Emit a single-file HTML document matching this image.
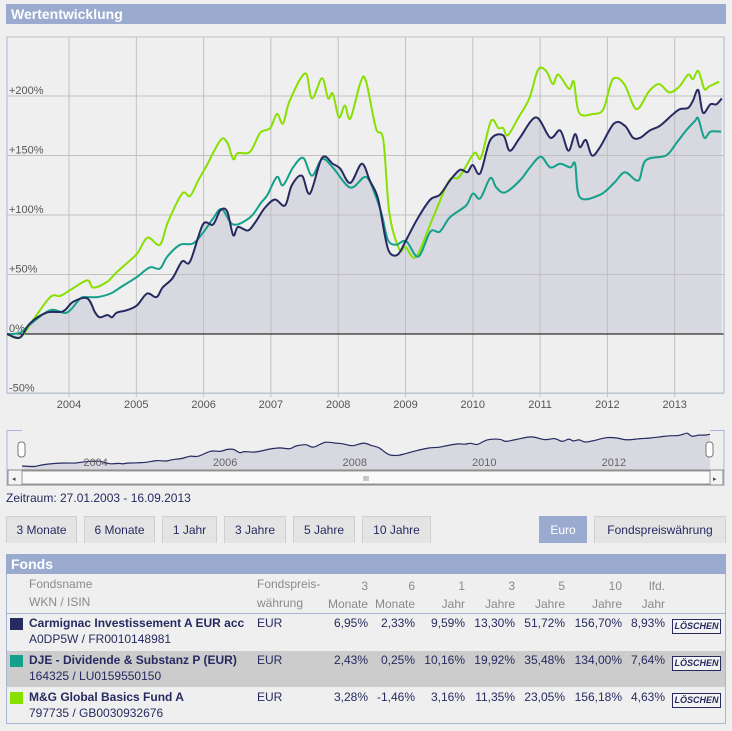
<!DOCTYPE html>
<html><head><meta charset="utf-8">
<style>
body{margin:0;background:#efefef;font-family:"Liberation Sans",sans-serif;width:732px;height:731px;overflow:hidden;position:relative}
.bar{position:absolute;left:6px;width:720px;height:20px;background:#9babcf;color:#fff;font-weight:bold;font-size:14px;line-height:20px;padding-left:5px;box-sizing:border-box}
.btn{position:absolute;top:516px;height:27px;background:#e4e4e4;border:1px solid #cfcfcf;border-bottom:none;box-sizing:border-box;color:#262a60;font-size:12px;line-height:26px;text-align:center}
.t{position:absolute;font-size:12px;color:#262a60;white-space:nowrap}
.h{position:absolute;font-size:12px;color:#8a8a8a;white-space:nowrap}
.r{text-align:right}
.del{position:absolute;left:672px;width:47px;height:13px;border:1px solid #262a60;font-size:9px;font-weight:bold;font-style:italic;color:#262a60;text-align:center;line-height:13px;background:#f4f4f4}
.sw{position:absolute;left:10px;width:13px;height:12px}
</style></head><body>
<div class="bar" style="top:4px">Wertentwicklung</div>
<svg id="chart" width="732" height="500" style="position:absolute;left:0;top:0"></svg>
<div class="t" style="left:6px;top:491px;font-size:12px">Zeitraum: 27.01.2003 - 16.09.2013</div>
<div class="btn" style="left:6px;width:71px">3 Monate</div>
<div class="btn" style="left:84px;width:71px">6 Monate</div>
<div class="btn" style="left:162px;width:55px">1 Jahr</div>
<div class="btn" style="left:224px;width:62px">3 Jahre</div>
<div class="btn" style="left:293px;width:62px">5 Jahre</div>
<div class="btn" style="left:362px;width:69px">10 Jahre</div>
<div class="btn" style="left:539px;width:48px;background:#9babcf;border-color:#9babcf;color:#fff">Euro</div>
<div class="btn" style="left:594px;width:132px">Fondspreiswährung</div>

<div class="bar" style="top:554px">Fonds</div>
<div style="position:absolute;left:6px;top:574px;width:720px;height:150px;border-left:1px solid #a8b4d4;border-right:1px solid #a8b4d4;box-sizing:border-box"></div>
<div style="position:absolute;left:7px;top:613px;width:718px;height:1px;background:#a8b4d4"></div>
<div style="position:absolute;left:7px;top:651px;width:718px;height:36px;background:#cccccc"></div>
<div style="position:absolute;left:6px;top:723px;width:720px;height:1px;background:#a8b4d4"></div>

<div class="h" style="left:29px;top:577px">Fondsname</div>
<div class="h" style="left:29px;top:595px">WKN / ISIN</div>
<div class="h" style="left:257px;top:577px">Fondspreis-<br><span style="line-height:24px">währung</span></div>
<div id="hdrs"></div>

<div class="sw" style="top:618px;background:#262a60"></div>
<div class="t" style="left:29px;top:616px;font-weight:bold">Carmignac Investissement A EUR acc</div>
<div class="t" style="left:29px;top:632px">A0DP5W / FR0010148981</div>
<div class="sw" style="top:655px;background:#14a08a"></div>
<div class="t" style="left:29px;top:653px;font-weight:bold">DJE - Dividende &amp; Substanz P (EUR)</div>
<div class="t" style="left:29px;top:669px">164325 / LU0159550150</div>
<div class="sw" style="top:692px;background:#88e000"></div>
<div class="t" style="left:29px;top:690px;font-weight:bold">M&amp;G Global Basics Fund A</div>
<div class="t" style="left:29px;top:706px">797735 / GB0030932676</div>
<div id="vals"></div>

<script>
var NS="http://www.w3.org/2000/svg";
var carmYears=[2003.08,2003.27,2003.42,2003.67,2003.91,2004.06,2004.27,2004.39,2004.46,2004.57,2004.64,2004.71,2004.86,2005.01,2005.16,2005.3,2005.39,2005.54,2005.68,2005.8,2005.99,2006.14,2006.25,2006.35,2006.44,2006.51,2006.66,2006.77,2006.91,2007.06,2007.21,2007.31,2007.46,2007.58,2007.76,2007.92,2008.03,2008.18,2008.35,2008.47,2008.59,2008.7,2008.77,2008.89,2009.01,2009.19,2009.37,2009.51,2009.66,2009.81,2009.92,2010.0,2010.11,2010.26,2010.45,2010.55,2010.7,2010.94,2011.15,2011.3,2011.42,2011.52,2011.59,2011.68,2011.77,2011.89,2012.1,2012.26,2012.38,2012.49,2012.63,2012.78,2012.98,2013.08,2013.2,2013.27,2013.35,2013.42,2013.53,2013.62,2013.7];
var carmVals=[0,-3,9,18,19,27,30,18,14,16,14,18,20,24,34,31,39,47,61,61,92,92,104,103,83,90,87,94,106,113,108,125,133,118,148,143,139,127,143,129,114,81,68,67,79,98,113,117,129,138,136,142,135,163,167,154,165,182,165,171,154,168,157,163,150,157,177,175,165,165,171,175,185,189,190,196,205,186,193,193,198];
var djeYears=[2003.08,2003.27,2003.42,2003.72,2003.97,2004.17,2004.27,2004.42,2004.62,2004.76,2005.01,2005.2,2005.35,2005.46,2005.65,2005.84,2005.99,2006.14,2006.27,2006.44,2006.69,2006.85,2006.95,2007.09,2007.18,2007.33,2007.48,2007.61,2007.76,2007.92,2008.18,2008.41,2008.55,2008.65,2008.74,2008.86,2009.01,2009.19,2009.37,2009.51,2009.66,2009.9,2010.0,2010.11,2010.26,2010.35,2010.48,2010.7,2010.85,2011.01,2011.15,2011.3,2011.45,2011.52,2011.59,2011.89,2012.1,2012.26,2012.46,2012.57,2012.87,2013.02,2013.17,2013.3,2013.35,2013.44,2013.53,2013.69];
var djeVals=[0,1,8,20,18,30,31,31,34,39,48,56,55,65,75,76,85,97,105,92,98,110,117,132,125,140,148,133,147,140,123,132,117,100,79,75,78,65,86,86,98,108,118,114,131,123,119,129,140,149,140,143,140,143,115,117,127,136,129,146,150,160,171,179,181,165,170,170];
var mgYears=[2003.08,2003.27,2003.47,2003.72,2003.87,2004.02,2004.27,2004.36,2004.57,2004.71,2004.95,2005.03,2005.17,2005.35,2005.47,2005.68,2005.8,2005.92,2006.05,2006.14,2006.27,2006.36,2006.44,2006.51,2006.69,2006.84,2006.99,2007.09,2007.18,2007.28,2007.51,2007.61,2007.76,2007.85,2007.92,2008.01,2008.1,2008.18,2008.33,2008.41,2008.56,2008.67,2008.76,2008.91,2009.0,2009.16,2009.41,2009.65,2009.8,2010.02,2010.12,2010.27,2010.38,2010.45,2010.52,2010.69,2010.84,2010.97,2011.09,2011.19,2011.27,2011.43,2011.5,2011.58,2011.79,2011.94,2012.08,2012.25,2012.43,2012.62,2012.77,2012.92,2013.07,2013.2,2013.27,2013.35,2013.44,2013.51,2013.66];
var mgVals=[0,-3,12,31,32,37,45,39,44,52,64,69,81,75,94,118,116,129,142,152,164,160,147,152,153,169,173,185,177,196,219,198,215,198,202,182,192,181,211,213,173,163,102,71,73,65,98,129,132,152,148,179,173,173,167,183,198,222,221,210,218,206,212,186,185,189,214,210,189,204,210,203,208,218,214,221,206,208,212];
var yTicks=[-50,0,50,100,150,200];
var yTickLabels=["-50%","0%","+50%","+100%","+150%","+200%"];
var xTicks=[2004,2005,2006,2007,2008,2009,2010,2011,2012,2013];
var navTicks=[2004,2006,2008,2010,2012];

var svg=document.getElementById('chart');
function X(t){return 69+(t-2004)*67.3;}
function Y(v){return 334-v*1.19;}
function NX(t){return 22+(t-2003.08)/(13.70-3.08)*688;}
function NY(v){return 466-v*0.16;}
function el(tag,attrs){var e=document.createElementNS(NS,tag);for(var k in attrs)e.setAttribute(k,attrs[k]);svg.appendChild(e);return e;}
function pathD(xs,ys,fx,fy){
  var p=xs.map(function(t,i){return [fx(t),fy(ys[i])];});
  var d="M"+p[0][0].toFixed(1)+","+p[0][1].toFixed(1);
  for(var i=0;i<p.length-1;i++){
    var p0=p[i-1]||p[i],p1=p[i],p2=p[i+1],p3=p[i+2]||p2;
    var c1x=p1[0]+(p2[0]-p0[0])/6,c1y=p1[1]+(p2[1]-p0[1])/6,c2x=p2[0]-(p3[0]-p1[0])/6,c2y=p2[1]-(p3[1]-p1[1])/6;
    d+="C"+c1x.toFixed(1)+","+c1y.toFixed(1)+" "+c2x.toFixed(1)+","+c2y.toFixed(1)+" "+p2[0].toFixed(1)+","+p2[1].toFixed(1);
  }
  return d;
}
var bg=el('rect',{x:7,y:37,width:717,height:356,fill:'#efefef',stroke:'#c0c0c0'});


var carmD=pathD(carmYears,carmVals,X,Y);
var area=el('path',{d:carmD+"L"+X(carmYears[carmYears.length-1])+","+Y(0)+"L"+X(carmYears[0])+","+Y(0)+"Z",fill:'#d7d8e0'});


xTicks.forEach(function(t){
  var g=el('line',{x1:X(t),x2:X(t),y1:37,y2:397,stroke:'#c0c0c0'});
  
  
  var lb=el('text',{x:X(t),y:408,'text-anchor':'middle','font-size':11,fill:'#555'});lb.textContent=t;
  
  
});
yTicks.forEach(function(v,i){
  var g=el('line',{x1:7,x2:724,y1:Y(v),y2:Y(v),stroke:v===0?'#000':(v===-50?'#b8c8e0':'#c0c0c0')});
  
  
  var lb=el('text',{x:9,y:Y(v)-2,'font-size':11,fill:'#555'});lb.textContent=yTickLabels[i];
  
  
});
el('line',{x1:7,x2:7,y1:37,y2:393,stroke:'#a8b4d4'});
el('line',{x1:724,x2:724,y1:37,y2:393,stroke:'#a8b4d4'});
var s1=el('path',{d:pathD(mgYears,mgVals,X,Y),fill:'none',stroke:'#88e000','stroke-width':2});


var s2=el('path',{d:pathD(djeYears,djeVals,X,Y),fill:'none',stroke:'#14a08a','stroke-width':2});


var s3=el('path',{d:carmD,fill:'none',stroke:'#262a60','stroke-width':2});


el('line',{x1:7,x2:7,y1:430,y2:486,stroke:'#a8b4d4'});
el('line',{x1:724,x2:724,y1:430,y2:486,stroke:'#a8b4d4'});
el('line',{x1:7,x2:22,y1:430.5,y2:430.5,stroke:'#a8b4d4'});
el('line',{x1:710,x2:724,y1:430.5,y2:430.5,stroke:'#a8b4d4'});
var nd=pathD(carmYears,carmVals,NX,NY);
var na=el('path',{d:nd+"L710,470L22,470Z",fill:'#d7d8e0'});


el('path',{d:nd,fill:'none',stroke:'#262a60','stroke-width':1.2});
navTicks.forEach(function(t){
  var lb=el('text',{x:NX(t)+14,y:466,'text-anchor':'middle','font-size':11,fill:'#666'});lb.textContent=t;
  
  
});
var sb=el('rect',{x:8,y:470,width:715,height:15,fill:'#f4f4f4',stroke:'#888'});


var th=el('rect',{x:22,y:471,width:688,height:13,fill:'#fafafa',stroke:'#999'});


el('text',{x:12,y:481,'font-size':7,fill:'#444'}).textContent='◂';
el('text',{x:713,y:481,'font-size':7,fill:'#444'}).textContent='▸';
el('text',{x:366,y:481,'font-size':7,fill:'#666','text-anchor':'middle'}).textContent='III';
[18,706].forEach(function(x,i){
  var h=el('rect',{x:x,y:442,width:7,height:15,rx:3,fill:'#fff',stroke:'#777'});
  
  
});

var hdrs=[["3","Monate",368],["6","Monate",415],["1","Jahr",465],["3","Jahre",515],["5","Jahre",565],["10","Jahre",622],["lfd.","Jahr",665]];
var H=document.getElementById('hdrs');
hdrs.forEach(function(h){
  var d=document.createElement('div');d.className='h r';d.style.right=(732-h[2])+'px';d.style.top='577px';d.style.lineHeight='18px';
  d.innerHTML=h[0]+'<br>'+h[1];
  
  
  H.appendChild(d);
});
var rows=[["6,95%","2,33%","9,59%","13,30%","51,72%","156,70%","8,93%"],["2,43%","0,25%","10,16%","19,92%","35,48%","134,00%","7,64%"],["3,28%","-1,46%","3,16%","11,35%","23,05%","156,18%","4,63%"]];
var V=document.getElementById('vals');
rows.forEach(function(r,ri){
  var top=616+ri*37;
  var c=document.createElement('div');c.className='t';c.style.left='257px';c.style.top=top+'px';c.textContent='EUR';
  
  
  V.appendChild(c);
  r.forEach(function(v,i){
    var d=document.createElement('div');d.className='t';d.style.right=(732-hdrs[i][2])+'px';d.style.top=top+'px';d.textContent=v;
    
    
    V.appendChild(d);
  });
  var b=document.createElement('div');b.className='del';b.style.top=(top+3)+'px';b.textContent='LÖSCHEN';
  
  
  V.appendChild(b);
});
</script>
</body></html>
